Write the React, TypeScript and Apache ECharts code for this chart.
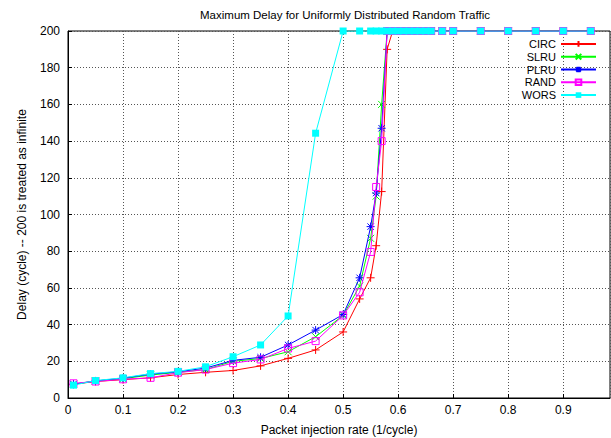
import React, { useEffect, useRef } from "react";
import * as echarts from "echarts";

const xValues = [0.01, 0.05, 0.1, 0.15, 0.2, 0.25, 0.3, 0.35, 0.4, 0.45, 0.5, 0.53, 0.55, 0.56, 0.57, 0.58, 0.59, 0.6, 0.61, 0.62, 0.63, 0.64, 0.65, 0.66, 0.68, 0.7, 0.75, 0.8, 0.85, 0.9, 0.95];

const TOP = [200, 200, 200, 200, 200, 200, 200, 200, 200, 200, 200, 200, 200, 200, 200];
const circ = [7.5, 9, 10, 11, 12.8, 14, 15, 17.5, 21.6, 26.2, 36, 54, 65.5, 83, 112.5, 190, ...TOP];
const slru = [7.5, 9.3, 10.5, 12.5, 14, 15.5, 20, 21.5, 25.2, 33.4, 45, 61, 87, 110, 160, 200, ...TOP];
const plru = [7.5, 9.3, 10.8, 13, 14.3, 16.3, 20.5, 22.2, 28.9, 37, 45.5, 65.5, 93.4, 111.7, 147, 200, ...TOP];
const rand = [8, 9, 10.2, 11, 13.8, 15.5, 19, 21, 27, 31, 45, 57.6, 79.6, 115, 140, 200, ...TOP];
const wors = [7, 9.5, 11, 13.3, 14.5, 17, 22.5, 28.9, 44.7, 144.3, 200, 200, 200, 200, 200, 200, ...TOP];

const seriesNames = ["CIRC", "SLRU", "PLRU", "RAND", "WORS"];
const seriesData = [circ, slru, plru, rand, wors];
const colors = ["#ff0000", "#00ff00", "#0000ff", "#ff00ff", "#00ffff"];

const title = "Maximum Delay for Uniformly Distributed Random Traffic";
const xName = "Packet injection rate (1/cycle)";
const yName = "Delay (cycle) -- 200 is treated as infinite";

const PLUS = "path://M0,5L10,5M5,0L5,10";
const CROSS = "path://M0,0L10,10M0,10L10,0";
const STAR = "path://M0,5L10,5M5,0L5,10M1,1L9,9M1,9L9,1";
const FONT = "'Liberation Sans', Arial, sans-serif";

export default function App() {
  const ref = useRef<HTMLDivElement>(null);
  useEffect(() => {
    if (!ref.current) return;
    const chart = echarts.init(ref.current, undefined, { renderer: "svg" });
    const symbols = [PLUS, CROSS, STAR, "rect", "rect"];
    const sizes = [8, 7, 8, 7, 7];
    const series = seriesNames.map((name, i) => {
      const hollow = i === 3;
      const strokeOnly = i < 3;
      return {
        name,
        type: "line",
        data: xValues.map((x, j) => [x, seriesData[i][j]]),
        symbol: symbols[i],
        symbolSize: sizes[i],
        showSymbol: true,
        lineStyle: { color: colors[i], width: 1 },
        itemStyle: {
          color: strokeOnly ? colors[i] : hollow ? "rgba(0,0,0,0)" : colors[i],
          borderColor: colors[i],
          borderWidth: strokeOnly || hollow ? 1 : 0,
        },
        emphasis: { disabled: true },
        z: 2 + i,
      };
    });
    chart.setOption({
      animation: false,
      textStyle: { fontFamily: FONT },
      title: {
        text: title,
        left: 340,
        top: 4,
        textAlign: "center",
        textStyle: { fontSize: 11.5, fontWeight: "normal", color: "#000", fontFamily: FONT },
      },
      legend: {
        orient: "vertical",
        right: 9,
        top: 32.5,
        align: "right",
        itemWidth: 35,
        itemHeight: 7,
        itemGap: 0,
        textStyle: { fontSize: 11, lineHeight: 12.8, color: "#000", fontFamily: FONT, padding: [0, 0, 0, 0] },
        data: seriesNames,
      },
      grid: {
        left: 68,
        right: 1,
        top: 31,
        bottom: 40,
        outerBoundsMode: "none",
        containLabel: false,
        show: true,
        borderColor: "#000",
        borderWidth: 1,
        backgroundColor: "transparent",
      },
      xAxis: {
        type: "value",
        min: 0,
        max: 0.985,
        interval: 0.1,
        name: xName,
        nameLocation: "middle",
        nameGap: 26,
        nameTextStyle: { fontSize: 12, color: "#000", fontFamily: FONT },
        axisLine: { show: true, lineStyle: { color: "#000", width: 1 } },
        axisTick: { show: true, inside: true, length: 4, lineStyle: { color: "#000" } },
        axisLabel: {
          fontSize: 12,
          color: "#000",
          margin: 6,
          showMaxLabel: false,
          formatter: (v: number) => (v === 0 ? "0" : String(+v.toFixed(1))),
        },
        splitLine: { show: true, lineStyle: { color: "#555", type: [1, 2], width: 1 } },
      },
      yAxis: {
        type: "value",
        min: 0,
        max: 200,
        interval: 20,
        name: yName,
        nameLocation: "middle",
        nameGap: 40,
        nameTextStyle: { fontSize: 12, color: "#000", fontFamily: FONT },
        axisLine: { show: true, lineStyle: { color: "#000", width: 1 } },
        axisTick: { show: true, inside: true, length: 4, lineStyle: { color: "#000" } },
        axisLabel: { fontSize: 12, color: "#000", margin: 8 },
        splitLine: { show: true, lineStyle: { color: "#555", type: [1, 2], width: 1 } },
      },
      series,
    });
    return () => chart.dispose();
  }, []);
  return <div ref={ref} style={{ position: "fixed", left: 0, top: 0, width: 611, height: 438, background: "#fff" }} />;
}
